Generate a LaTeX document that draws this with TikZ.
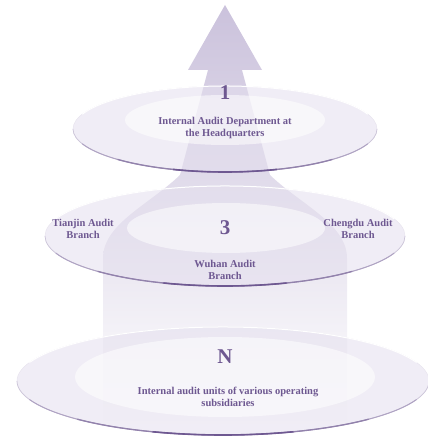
\documentclass[tikz,border=0pt]{standalone}
\usepackage{fontspec}
\setmainfont{Liberation Serif}
\usetikzlibrary{calc}
\definecolor{tierpurple}{RGB}{110,88,145}
\definecolor{arrowlav}{RGB}{203,194,220}
\definecolor{disclav}{RGB}{228,223,238}
\tikzset{
	disc/.style={fill=disclav, fill opacity=0.55}, % see-through tier
	discinner/.style={fill=white, fill opacity=0.55},
	rim/.style={draw=tierpurple!#1, line width=0.7pt},
	tiernum/.style={text=tierpurple, font=\fontsize{21}{24}\selectfont\bfseries},
	tierlabel/.style={text=tierpurple, font=\fontsize{10.5}{12}\selectfont\bfseries, align=center},
}

\begin{document}
\begin{tikzpicture}[x=1pt,y=1pt]
			\useasboundingbox (0,0) rectangle (428,439);
			% centre line of the arrow
			\def\cx{225}
			
			% arrow, fading out towards the bottom
			\shade[top color=arrowlav, middle color=arrowlav!55, bottom color=white]
				(\cx,434) -- (\cx+37,369) -- (\cx+17,369) -- (\cx+45,264)
				.. controls (\cx+75,235) and (\cx+122,215) .. (\cx+122,181)
				-- (\cx+122,15) -- (\cx-122,15) -- (\cx-122,181)
				.. controls (\cx-122,215) and (\cx-75,235) .. (\cx-45,264)
				-- (\cx-17,369) -- (\cx-37,369) -- cycle;
			
			% tier N: subsidiaries
			\fill[disc] (223,58) ellipse (206 and 54);
			\fill[discinner] (225,62) ellipse (150 and 40);
			\draw[draw=arrowlav!45, line width=0.5pt] (223,58) ellipse (206 and 54);
			\draw[white, line width=1pt] ($(223,58)+(20:206 and 54)$) arc[start angle=20, end angle=160, x radius=206, y radius=54];
			\draw[rim=35] ($(223,58)+(180:206 and 54)$) arc[start angle=180, end angle=360, x radius=206, y radius=54];
			\draw[rim=55, line width=1pt] ($(223,58)+(200:206 and 54)$) arc[start angle=200, end angle=340, x radius=206, y radius=54];
			\draw[rim=75, line width=1.3pt] ($(223,58)+(225:206 and 54)$) arc[start angle=225, end angle=315, x radius=206, y radius=54];
			\draw[rim=100, line width=1.6pt] ($(223,58)+(250:206 and 54)$) arc[start angle=250, end angle=290, x radius=206, y radius=54];
			
			% tier 3: branches
			\fill[disc] (\cx,203) ellipse (180 and 50);
			\fill[discinner] (226,211) ellipse (99 and 25);
			\draw[draw=arrowlav!45, line width=0.5pt] (\cx,203) ellipse (180 and 50);
			\draw[white, line width=1pt] ($(\cx,203)+(20:180 and 50)$) arc[start angle=20, end angle=160, x radius=180, y radius=50];
			\draw[rim=35] ($(\cx,203)+(180:180 and 50)$) arc[start angle=180, end angle=360, x radius=180, y radius=50];
			\draw[rim=55, line width=1pt] ($(\cx,203)+(200:180 and 50)$) arc[start angle=200, end angle=340, x radius=180, y radius=50];
			\draw[rim=75, line width=1.3pt] ($(\cx,203)+(225:180 and 50)$) arc[start angle=225, end angle=315, x radius=180, y radius=50];
			\draw[rim=100, line width=1.6pt] ($(\cx,203)+(250:180 and 50)$) arc[start angle=250, end angle=290, x radius=180, y radius=50];
			
			% tier 1: headquarters
			\fill[disc] (\cx,310) ellipse (152 and 43);
			\fill[discinner] (\cx,319) ellipse (100 and 25);
			\draw[draw=arrowlav!45, line width=0.5pt] (\cx,310) ellipse (152 and 43);
			\draw[white, line width=1pt] ($(\cx,310)+(20:152 and 43)$) arc[start angle=20, end angle=160, x radius=152, y radius=43];
			\draw[rim=35] ($(\cx,310)+(180:152 and 43)$) arc[start angle=180, end angle=360, x radius=152, y radius=43];
			\draw[rim=55, line width=1pt] ($(\cx,310)+(200:152 and 43)$) arc[start angle=200, end angle=340, x radius=152, y radius=43];
			\draw[rim=75, line width=1.3pt] ($(\cx,310)+(225:152 and 43)$) arc[start angle=225, end angle=315, x radius=152, y radius=43];
			\draw[rim=100, line width=1.6pt] ($(\cx,310)+(250:152 and 43)$) arc[start angle=250, end angle=290, x radius=152, y radius=43];
			
			% labels
			\node[tiernum] (hqnum) at (\cx,346) {1};
			\node[tierlabel] (hq) at (\cx,311) {Internal Audit Department at\\the Headquarters};
			\node[tiernum] (branchnum) at (\cx,211) {3};
			\node[tierlabel] (tianjin) at (83,210) {Tianjin Audit\\Branch};
			\node[tierlabel] (chengdu) at (358,210) {Chengdu Audit\\Branch};
			\node[tierlabel] (wuhan) at (\cx,169) {Wuhan Audit\\Branch};
			\node[tiernum] (subnum) at (\cx,82) {N};
			\node[tierlabel] (subs) at (228,42) {Internal audit units of various operating\\subsidiaries};
			
\end{tikzpicture}
\end{document}
